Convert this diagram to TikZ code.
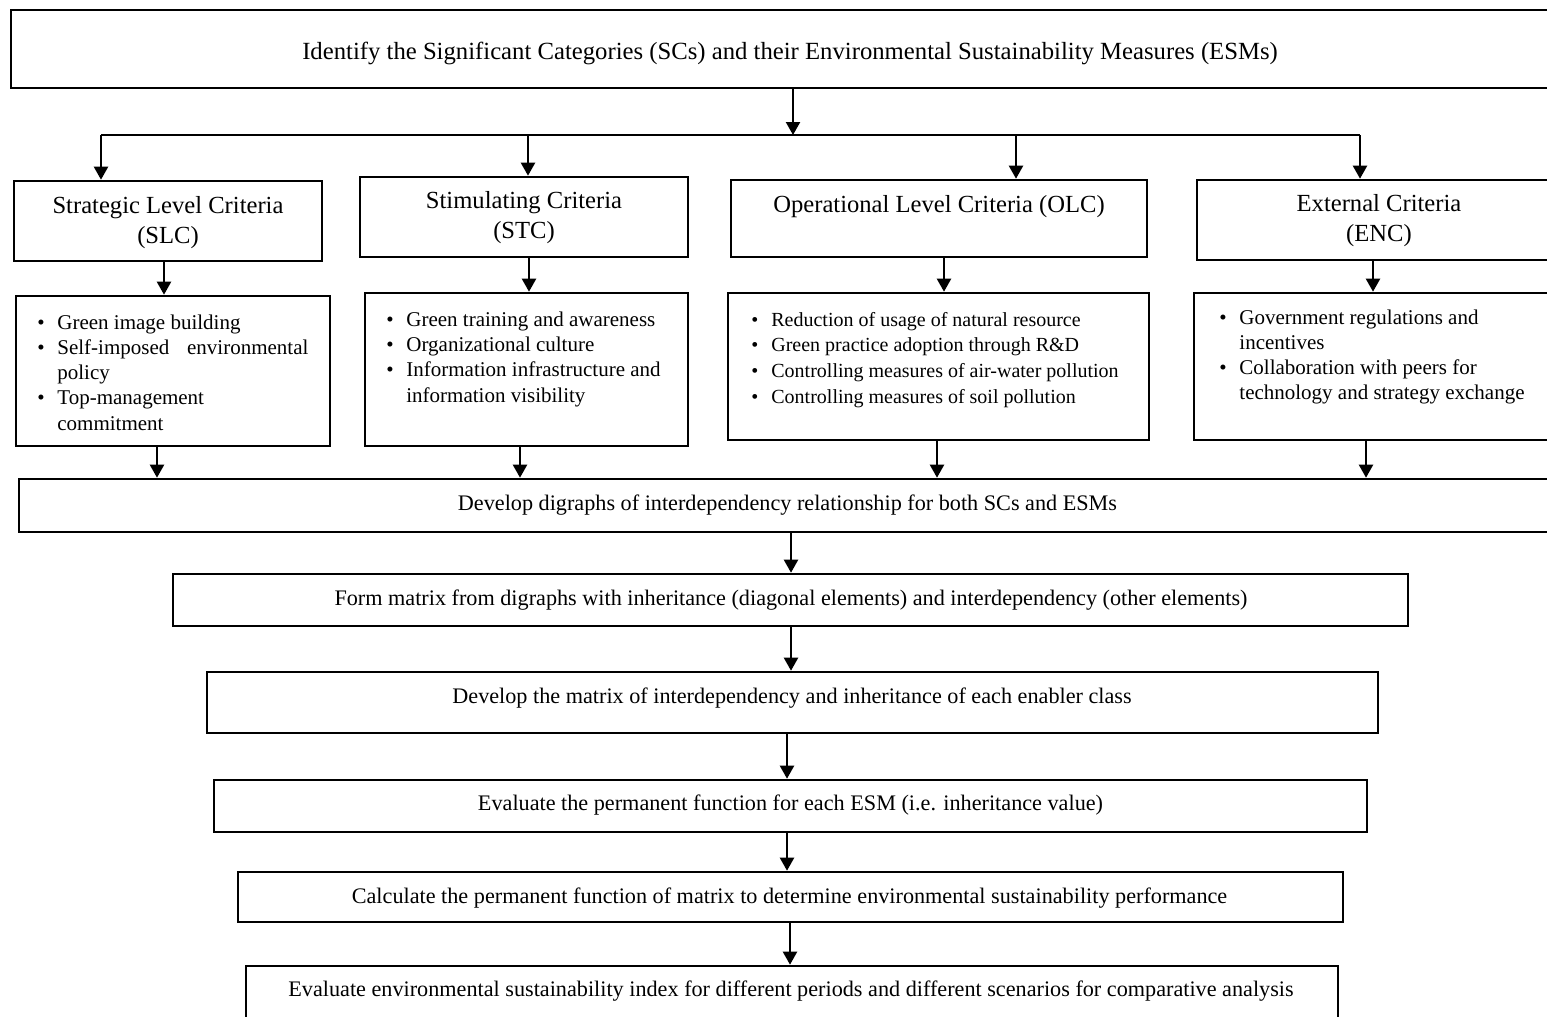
\documentclass[tikz,border=0pt]{standalone}
\usepackage{fontspec}
\setmainfont{Liberation Serif}
\usetikzlibrary{arrows.meta,fit}

% bullet marker and hanging indent for the criteria lists
\newcommand\bl{\makebox[10pt][l]{\textbullet}}
\newcommand\ind{\hspace*{10pt}}
% two centred lines for the criteria headers
\newcommand\twolines[2]{\begin{tabular}{@{}c@{}}#1\\#2\end{tabular}}

\tikzset{
  box/.style={draw, line width=1.3pt, inner sep=0pt},
  arr/.style={line width=1.1pt, -{Triangle[width=7pt,length=6.5pt]}},
  busline/.style={line width=1.1pt},
  hdr/.style={font=\fontsize{12.3}{15}\selectfont},
  steptext/.style={font=\fontsize{11.1}{13}\selectfont},
  toptext/.style={font=\fontsize{12.35}{14}\selectfont},
  lst/.style={align=left, inner sep=0pt, anchor=base west, font=\fontsize{10.5}{12.6}\selectfont},
}

\begin{document}
\begin{tikzpicture}[x=0.5pt,y=-0.5pt]
\useasboundingbox (0,0) rectangle (1547,1017);
\clip (0,0) rectangle (1547,1017);

% top box
\node[box, fit={(11,10) (1568,88)}] (top) {};
\node[toptext] (topt) at (790,53) {Identify the Significant Categories (SCs) and their Environmental Sustainability Measures (ESMs)};

% criteria headers
\node[box, fit={(14,181) (322,261)}] (slc) {};
\node[hdr] (slct) at (168,222) {\twolines{Strategic Level Criteria}{(SLC)}};
\node[box, fit={(360,177) (688,257)}] (stc) {};
\node[hdr] (stct) at (524,217.5) {\twolines{Stimulating Criteria}{(STC)}};
\node[box, fit={(731,180) (1147,257)}] (olc) {};
\node[hdr] (olct) at (939,207) {Operational Level Criteria (OLC)};
\node[box, fit={(1197,180) (1561,260)}] (enc) {};
\node[hdr] (enct) at (1379,220) {\twolines{External Criteria}{(ENC)}};

% measure lists
\node[box, fit={(16,296) (330,446)}] (slcb) {};
\node[box, fit={(365,293) (688,446)}] (stcb) {};
\node[box, fit={(728,293) (1149,440)}] (olcb) {};
\node[box, fit={(1194,293) (1561,440)}] (encb) {};

% lists are anchored at the baseline of their last line
\node[lst] (slcl) at (37,430) {\bl Green image building\\
  \bl \makebox[125.5pt][s]{Self-imposed environmental}\\
  \ind policy\\
  \bl Top-management\\
  \ind commitment};
\node[lst] (stcl) at (386,402) {\bl Green training and awareness\\
  \bl Organizational culture\\
  \bl Information infrastructure and\\
  \ind information visibility};
\node[lst, font=\fontsize{10}{12.8}\selectfont] (olcl) at (751,403) {\bl Reduction of usage of natural resource\\
  \bl Green practice adoption through R\&D\\
  \bl Controlling measures of air-water pollution\\
  \bl Controlling measures of soil pollution};
\node[lst, font=\fontsize{10.5}{12.4}\selectfont] (encl) at (1219,399) {\bl Government regulations and\\
  \ind incentives\\
  \bl Collaboration with peers for\\
  \ind technology and strategy exchange};

% process steps
\node[box, fit={(19,479) (1556,532)}] (dig) {};
\node[steptext] (digt) at (787.5,505) {Develop digraphs of interdependency relationship for both SCs and ESMs};
\node[box, fit={(173,574) (1408,626)}] (form) {};
\node[steptext] (formt) at (791,600) {Form matrix from digraphs with inheritance (diagonal elements) and interdependency (other elements)};
\node[box, fit={(207,672) (1378,733)}] (mat) {};
\node[steptext] (matt) at (792,698) {Develop the matrix of interdependency and inheritance of each enabler class};
\node[box, fit={(214,780) (1367,832)}] (perm) {};
\node[steptext] (permt) at (790.5,805) {Evaluate the permanent function for each ESM (i.e. inheritance value)};
\node[box, fit={(238,872) (1343,922)}] (calc) {};
\node[steptext] (calct) at (789.5,898) {Calculate the permanent function of matrix to determine environmental sustainability performance};
\node[box, fit={(246,966) (1338,1040)}] (idx) {};
\node[steptext] (idxt) at (791,991) {Evaluate environmental sustainability index for different periods and different scenarios for comparative analysis};

% distribution bus
\coordinate (hub) at (793,135);
\coordinate (b1) at (101,135);
\coordinate (b2) at (528,135);
\coordinate (b3) at (1016,135);
\coordinate (b4) at (1360,135);
\draw[arr] (top.south -| hub) -- (hub);
\draw[busline] (b1) -- (b4);
\draw[arr] (b1) -- (slc.north -| b1);
\draw[arr] (b2) -- (stc.north -| b2);
\draw[arr] (b3) -- (olc.north -| b3);
\draw[arr] (b4) -- (enc.north -| b4);

% header to list connectors
\coordinate (h1) at (164,0);
\coordinate (h2) at (529,0);
\coordinate (h3) at (944,0);
\coordinate (h4) at (1373,0);
\draw[arr] (slc.south -| h1) -- (slcb.north -| h1);
\draw[arr] (stc.south -| h2) -- (stcb.north -| h2);
\draw[arr] (olc.south -| h3) -- (olcb.north -| h3);
\draw[arr] (enc.south -| h4) -- (encb.north -| h4);

% list to digraph connectors
\coordinate (l1) at (157,0);
\coordinate (l2) at (520,0);
\coordinate (l3) at (937,0);
\coordinate (l4) at (1366,0);
\draw[arr] (slcb.south -| l1) -- (dig.north -| l1);
\draw[arr] (stcb.south -| l2) -- (dig.north -| l2);
\draw[arr] (olcb.south -| l3) -- (dig.north -| l3);
\draw[arr] (encb.south -| l4) -- (dig.north -| l4);

% main sequence
\coordinate (m1) at (791,0);
\coordinate (m2) at (787,0);
\coordinate (m3) at (790,0);
\draw[arr] (dig.south -| m1) -- (form.north -| m1);
\draw[arr] (form.south -| m1) -- (mat.north -| m1);
\draw[arr] (mat.south -| m2) -- (perm.north -| m2);
\draw[arr] (perm.south -| m2) -- (calc.north -| m2);
\draw[arr] (calc.south -| m3) -- (idx.north -| m3);
\end{tikzpicture}
\end{document}
